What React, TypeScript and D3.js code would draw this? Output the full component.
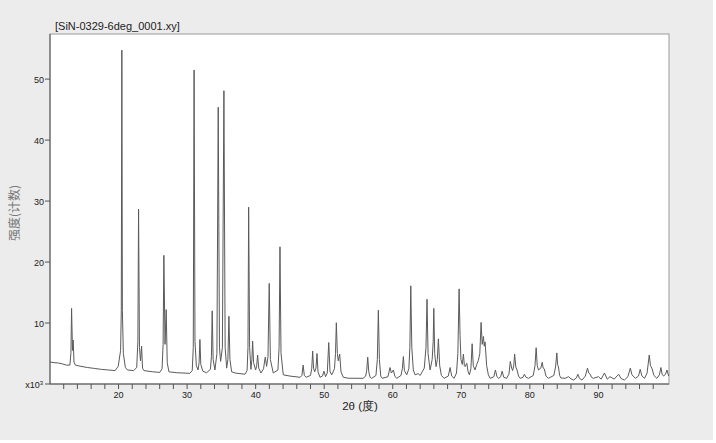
import React from "react";
import * as d3 from "d3";

const title = "[SiN-0329-6deg_0001.xy]";
const xLabel = "2θ (度)";
const yLabel = "强度(计数)";
const xMajorTicks = [20, 30, 40, 50, 60, 70, 80, 90];
const xMinorTicks = [12, 14, 16, 18, 20, 22, 24, 26, 28, 30, 32, 34, 36, 38, 40, 42, 44, 46, 48, 50, 52, 54, 56, 58, 60, 62, 64, 66, 68, 70, 72, 74, 76, 78, 80, 82, 84, 86, 88, 90, 92, 94, 96, 98];
const yTicks = [0, 10, 20, 30, 40, 50];

// [2θ (deg), intensity (x10^3 counts)]
const pattern: [number, number][] = [
  [10.0, 3.6], [10.6, 3.5], [11.2, 3.45], [11.8, 3.3], [12.4, 3.1], [12.9, 3.1],
  [13.05, 5.0], [13.15, 12.4], [13.28, 5.5], [13.38, 7.2], [13.5, 3.6], [13.7, 3.1],
  [14.5, 2.9], [15.5, 2.7], [16.5, 2.55], [17.5, 2.4], [18.5, 2.3], [19.5, 2.2],
  [19.95, 2.9], [20.3, 5.5], [20.4, 12], [20.48, 54.75], [20.56, 12], [20.7, 5.0],
  [21.0, 2.7], [21.3, 2.3], [22.2, 2.2], [22.65, 2.7], [22.82, 7], [22.92, 28.7],
  [23.05, 6], [23.2, 3.8], [23.36, 6.2], [23.5, 2.6], [23.7, 2.2], [25.0, 2.0],
  [26.0, 1.9], [26.35, 2.5], [26.5, 6.5], [26.61, 21.1], [26.78, 6.5], [26.95, 12.2],
  [27.1, 3.5], [27.35, 2.0], [28.5, 1.85], [30.4, 1.75], [30.75, 2.2], [30.9, 6],
  [31.02, 51.5], [31.15, 7], [31.35, 3.0], [31.6, 2.3], [31.75, 3.5], [31.87, 7.3],
  [32.0, 3.2], [32.3, 2.1], [32.85, 1.85], [33.4, 2.4], [33.55, 4.5], [33.66, 12.0],
  [33.8, 4], [34.06, 2.3], [34.35, 5], [34.54, 45.4], [34.72, 6], [34.89, 3.7],
  [35.15, 6], [35.37, 48.1], [35.55, 6], [35.77, 2.6], [35.95, 4], [36.1, 11.1],
  [36.25, 4], [36.5, 2.0], [37.0, 1.8], [38.44, 1.6], [38.75, 2.2], [38.88, 6],
  [38.98, 29.0], [39.12, 6], [39.31, 2.4], [39.45, 4], [39.56, 7.05], [39.7, 3.5],
  [40.0, 2.3], [40.15, 3], [40.29, 4.75], [40.45, 2.6], [40.77, 1.8], [41.15, 2.5],
  [41.4, 4.4], [41.6, 2.9], [41.8, 4.5], [41.98, 16.5], [42.15, 4], [42.57, 1.8],
  [43.25, 2.3], [43.42, 6], [43.55, 22.5], [43.7, 5], [44.03, 1.5], [45.0, 1.3],
  [46.5, 1.1], [46.75, 1.4], [46.93, 3.1], [47.1, 1.4], [47.37, 1.1], [48.0, 1.4],
  [48.18, 2.5], [48.32, 5.4], [48.45, 2.6], [48.61, 2.0], [48.8, 2.6], [48.95, 5.0],
  [49.1, 2.0], [49.39, 1.1], [49.75, 1.3], [49.97, 2.1], [50.2, 1.2], [50.45, 1.8],
  [50.66, 6.8], [50.85, 2], [51.1, 1.5], [51.5, 2.5], [51.65, 5], [51.77, 10.05],
  [51.92, 5], [52.05, 3.8], [52.26, 4.9], [52.45, 2], [52.79, 1.1], [53.5, 0.95],
  [55.66, 0.93], [56.05, 1.3], [56.2, 2.2], [56.35, 4.4], [56.5, 2.0], [56.7, 1.1],
  [56.93, 0.93], [57.55, 1.4], [57.75, 4], [57.9, 12.1], [58.05, 4], [58.25, 1.3],
  [58.48, 0.93], [59.3, 1.2], [59.6, 2.7], [59.8, 1.8], [60.09, 2.3], [60.3, 1.3],
  [60.58, 0.93], [61.2, 1.4], [61.4, 2.5], [61.55, 4.5], [61.7, 2.2], [62.04, 1.5],
  [62.35, 2.5], [62.5, 6], [62.63, 16.1], [62.78, 6], [63.0, 2.3], [63.26, 1.5],
  [63.7, 1.7], [64.0, 1.4], [64.3, 2.0], [64.6, 2.6], [64.85, 6], [65.0, 13.9],
  [65.15, 5], [65.45, 2.3], [65.75, 4], [65.9, 7], [65.99, 12.4], [66.12, 5],
  [66.32, 2.85], [66.5, 4], [66.66, 7.4], [66.85, 3], [67.1, 1.4], [67.49, 0.93],
  [68.1, 1.3], [68.37, 2.7], [68.6, 1.3], [68.95, 0.93], [69.3, 1.8], [69.5, 5],
  [69.68, 15.6], [69.82, 8], [69.95, 4], [70.15, 3.2], [70.31, 4.9], [70.45, 3.0],
  [70.56, 2.85], [70.8, 3.4], [71.0, 2.0], [71.18, 1.5], [71.4, 2.5], [71.58, 6.6],
  [71.75, 3], [72.0, 2.3], [72.25, 3.2], [72.5, 3.9], [72.7, 5], [72.89, 10.1],
  [73.05, 6.5], [73.23, 7.8], [73.35, 6.2], [73.47, 6.9], [73.7, 3], [73.95, 1.5],
  [74.2, 0.93], [74.75, 1.2], [74.98, 2.3], [75.2, 1.2], [75.45, 0.93], [75.75, 1.2],
  [75.96, 2.1], [76.2, 1.1], [76.6, 0.93], [76.95, 1.6], [77.15, 3.7], [77.35, 2.6],
  [77.49, 2.2], [77.65, 3], [77.78, 4.9], [77.95, 2.8], [78.13, 2.3], [78.35, 1.3],
  [78.6, 0.93], [79.0, 1.1], [79.2, 1.6], [79.45, 1.1], [79.8, 0.93], [80.5, 1.4],
  [80.75, 3], [80.92, 5.95], [81.08, 3], [81.26, 2.3], [81.6, 2.6], [81.8, 3.55],
  [81.95, 2.6], [82.1, 2.5], [82.35, 1.3], [82.7, 0.93], [83.5, 1.4], [83.75, 2.8],
  [83.94, 5.1], [84.05, 3.2], [84.17, 2.8], [84.35, 1.4], [84.52, 1.0], [85.15, 0.93],
  [85.63, 1.2], [86.0, 0.85], [86.37, 0.65], [86.8, 1.0], [87.0, 1.6], [87.25, 0.9],
  [87.6, 0.65], [88.1, 1.3], [88.41, 2.6], [88.6, 1.8], [88.8, 1.6], [89.0, 1.1],
  [89.28, 0.93], [90.0, 1.2], [90.4, 0.8], [90.88, 1.8], [91.3, 0.8], [91.7, 1.2],
  [92.3, 0.8], [92.96, 1.6], [93.3, 0.9], [93.8, 0.65], [94.3, 1.2], [94.66, 2.6],
  [94.9, 1.5], [95.4, 0.93], [95.85, 1.3], [96.1, 2.4], [96.35, 1.3], [96.73, 0.93],
  [97.1, 1.8], [97.42, 4.75], [97.6, 3], [97.8, 2.6], [98.1, 1.4], [98.53, 0.93],
  [98.9, 1.5], [99.12, 2.7], [99.3, 1.6], [99.5, 1.3], [99.8, 1.6], [100.0, 2.3],
  [100.25, 1.3],
];

const W = 716;
const H = 443;
const left = 50;
const right = 669;
const top = 34;
const bottom = 384;
const font = "'Liberation Sans', Arial, sans-serif";

export default function App() {
  const x = d3.scaleLinear().domain([10, 100.3]).range([left, right]);
  const y = d3.scaleLinear().domain([0, 57.4]).range([bottom, top]);
  const line = d3
    .line<[number, number]>()
    .x((d) => x(d[0]))
    .y((d) => y(d[1]));

  return (
    <svg
      width={W}
      height={H}
      style={{ position: "absolute", left: 0, top: 0, display: "block" }}
    >
      <rect x={0} y={0} width={W} height={H} fill="#ffffff" />
      <rect x={0} y={0} width={713} height={440} fill="#ececec" />
      <text x={55} y={30} fontFamily={font} fontSize={11} fill="#222">
        {title}
      </text>
      <rect x={left} y={top} width={right - left} height={bottom - top} fill="#fff" stroke="#9a9a9a" strokeWidth={1} />
      <defs>
        <clipPath id="plotclip">
          <rect x={left} y={top} width={right - left} height={bottom - top} />
        </clipPath>
      </defs>
      <path d={line(pattern) || ""} fill="none" stroke="#5a5a5a" strokeWidth={1} strokeLinejoin="round" clipPath="url(#plotclip)" />
      <line x1={left} x2={left} y1={top} y2={bottom} stroke="#555" strokeWidth={1} />
      <line x1={left} x2={right} y1={bottom} y2={bottom} stroke="#555" strokeWidth={1} />
      {xMinorTicks.map((t) => (
        <line key={"xt" + t} x1={x(t)} x2={x(t)} y1={bottom} y2={bottom + 5} stroke="#555" strokeWidth={1} />
      ))}
      {xMajorTicks.map((t) => (
        <text key={"xl" + t} x={x(t)} y={398} textAnchor="middle" fontFamily={font} fontSize={9} fill="#222">
          {t}
        </text>
      ))}
      {yTicks.map((t) => (
        <g key={"yt" + t}>
          <line x1={left - 5} x2={left} y1={y(t)} y2={y(t)} stroke="#555" strokeWidth={1} />
          {t === 0 ? (
            <text x={left - 7} y={y(t) + 3.5} textAnchor="end" fontFamily={font} fontSize={9} fill="#222">
              x10
              <tspan dy={-3} fontSize={6}>3</tspan>
            </text>
          ) : (
            <text x={left - 6} y={y(t) + 3.5} textAnchor="end" fontFamily={font} fontSize={9} fill="#222">
              {t}
            </text>
          )}
        </g>
      ))}
      <text x={360} y={410} textAnchor="middle" fontFamily={font} fontSize={11.5} fill="#222">
        {xLabel}
      </text>
      <text
        transform={`translate(19, 213) rotate(-90)`}
        textAnchor="middle"
        fontFamily="'Noto Sans CJK SC', sans-serif"
        fontSize={12}
        fill="#777"
      >
        {yLabel}
      </text>
    </svg>
  );
}
